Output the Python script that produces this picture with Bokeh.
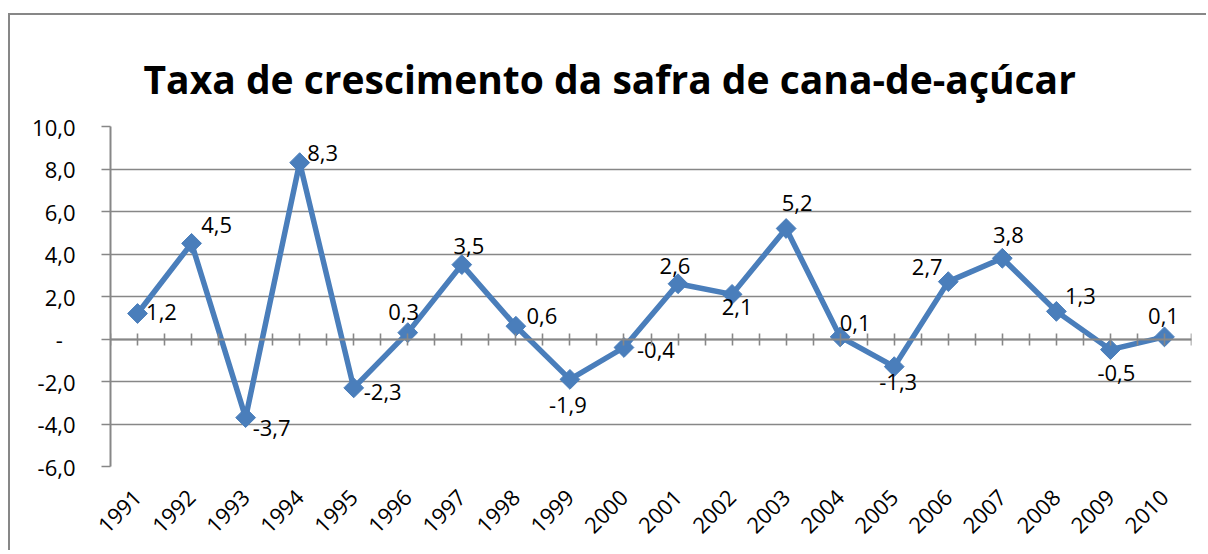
import math
from bokeh.plotting import figure
from bokeh.models import ColumnDataSource, Range1d, FactorRange, LinearAxis, FixedTicker
from bokeh.core.properties import value
from bokeh.embed import file_html
from bokeh.resources import INLINE

# ---- data ----
years = ["1991", "1992", "1993", "1994", "1995", "1996", "1997", "1998", "1999", "2000",
         "2001", "2002", "2003", "2004", "2005", "2006", "2007", "2008", "2009", "2010"]
growth = [1.2, 4.5, -3.7, 8.3, -2.3, 0.3, 3.5, 0.6, -1.9, -0.4,
          2.6, 2.1, 5.2, 0.1, -1.3, 2.7, 3.8, 1.3, -0.5, 0.1]
y_ticks = [-6, -4, -2, 0, 2, 4, 6, 8, 10]
y_tick_labels = ["-6,0", "-4,0", "-2,0", "-\u2007", "2,0", "4,0", "6,0", "8,0", "10,0"]
title_text = "Taxa de crescimento da safra de cana-de-açúcar"

# ---- style: data label placement (pixel offsets from each marker) ----
label_dx = [24, 25, 26, 23, 29, -4, 7, 26, -2, 32, -3, 5, 11, 15, 4, -21, 6, 24, 6, -1]
label_dy = [-2, -18, 10, -10, 4, -21, -19, -10, 26, 2, -18, 13, -26, -14, 15, -15, -23, -15, 23, -21]

GRAY = "#878787"
BLUE = "#4A7EBB"
FONT = "Open Sans"

labels = [f"{v:.1f}".replace(".", ",") for v in growth]
src = ColumnDataSource(dict(year=years, growth=growth, label=labels, dx=label_dx, dy=label_dy))

p = figure(width=1198, height=537, x_range=FactorRange(*years), y_range=Range1d(-6, 10),
           output_backend="svg", toolbar_location=None,
           min_border_left=100, min_border_right=17, min_border_top=111, min_border_bottom=86)
p.styles = {"border-top": f"2px solid {GRAY}", "border-left": f"2px solid {GRAY}",
            "margin": "13px 0px 0px 8px"}
p.outline_line_color = None
p.background_fill_color = "white"

p.title.text = title_text
p.title.text_font = FONT
p.title.text_font_style = "bold"
p.title.text_font_size = "39px"
p.title.align = "left"
p.title.offset = 33
p.title.standoff = 40
p.title.vertical_align = "top"
p.title.text_color = "black"

# grid
p.xgrid.grid_line_color = None
p.ygrid.ticker = FixedTicker(ticks=y_ticks)
p.ygrid.grid_line_color = GRAY
p.ygrid.grid_line_width = 1.6

# y axis
p.yaxis.ticker = FixedTicker(ticks=y_ticks)
p.yaxis.major_label_overrides = {t: l for t, l in zip(y_ticks, y_tick_labels)}
p.yaxis.axis_line_color = GRAY
p.yaxis.axis_line_width = 2
p.yaxis.major_tick_line_color = GRAY
p.yaxis.major_tick_line_width = 1.6
p.yaxis.major_tick_in = 0
p.yaxis.major_tick_out = 9
p.yaxis.minor_tick_line_color = None
p.yaxis.major_label_standoff = 26
p.yaxis.major_label_text_font = FONT
p.yaxis.major_label_text_font_size = "22px"
p.yaxis.major_label_text_color = "black"

# x category labels at the bottom
p.xaxis.axis_line_color = None
p.xaxis.major_tick_line_color = None
p.xaxis.minor_tick_line_color = None
p.xaxis.major_label_orientation = math.pi / 4
p.xaxis.major_label_standoff = 21
p.xaxis.major_label_text_font = FONT
p.xaxis.major_label_text_font_size = "22px"
p.xaxis.major_label_text_color = "black"

# horizontal axis line crossing at zero, with tick marks at category
# boundaries (major) and centres (minor), in the factor range's synthetic units
n = len(years)
zero_axis = LinearAxis(fixed_location=0,
                       ticker=FixedTicker(ticks=list(range(n + 1)),
                                          minor_ticks=[i + 0.5 for i in range(n)]),
                       major_label_text_font_size="2px",
                       major_label_text_color=None,
                       axis_line_color=GRAY, axis_line_width=2,
                       major_tick_line_color=GRAY, major_tick_line_width=1.6,
                       major_tick_in=6, major_tick_out=6,
                       minor_tick_line_color=GRAY, minor_tick_line_width=1.6,
                       minor_tick_in=6, minor_tick_out=6)
p.add_layout(zero_axis, "below")

# series
p.line(x="year", y="growth", source=src, line_color=BLUE, line_width=5.5)
p.scatter(x="year", y="growth", source=src, marker="square", angle=math.pi / 4,
          size=14, fill_color=BLUE, line_color=BLUE)
p.text(x="year", y="growth", text="label", source=src, x_offset="dx", y_offset="dy",
       text_align="center", text_baseline="middle", text_font=value(FONT),
       text_font_size="22px", text_color="black")

open("out.html", "w").write(file_html(p, INLINE))
